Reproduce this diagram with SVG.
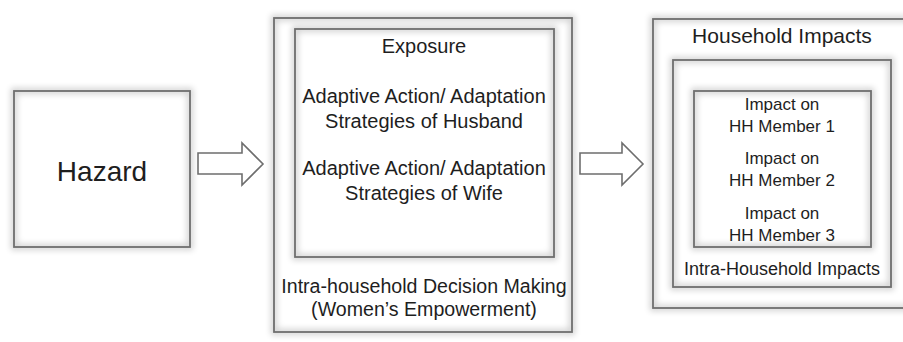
<svg xmlns="http://www.w3.org/2000/svg" width="903" height="342" viewBox="0 0 903 342">
<defs>
<filter id="glow" x="-10%" y="-10%" width="120%" height="120%">
<feMorphology in="SourceAlpha" operator="dilate" radius="1.5" result="d"/>
<feGaussianBlur in="d" stdDeviation="3" result="b"/>
<feComponentTransfer in="b" result="s"><feFuncA type="linear" slope="0.2"/></feComponentTransfer>
<feMerge><feMergeNode in="s"/><feMergeNode in="SourceGraphic"/></feMerge>
</filter>
</defs>
<style>
.box{fill:none;stroke:#6e6e6e;stroke-width:1.8;filter:url(#glow)}
.arrow{fill:#fff;stroke:#6e6e6e;stroke-width:1.6;stroke-linejoin:miter}
text{font-family:"Liberation Sans",Arial,sans-serif;fill:#1e1e1e;text-anchor:middle}
.t20{font-size:20px}
.t19{font-size:19.6px}
.t18{font-size:18px}
.t17{font-size:17px}
</style>
<rect width="903" height="342" fill="#fff"/>
<g id="hazard">
<rect class="box" x="14" y="91" width="176" height="156"/>
<text x="102" y="181" style="font-size:28px">Hazard</text>
</g>
<g id="decision">
<rect class="box" x="274" y="18" width="298" height="314"/>
<text class="t19" x="424" y="293">Intra-household Decision Making</text>
<text class="t19" x="424" y="316">(Women’s Empowerment)</text>
<g id="exposure">
<rect class="box" x="295" y="29" width="259" height="228"/>
<text class="t20" x="424" y="53">Exposure</text>
<text class="t20" x="424" y="103">Adaptive Action/ Adaptation</text>
<text class="t20" x="424" y="128">Strategies of Husband</text>
<text class="t20" x="424" y="175">Adaptive Action/ Adaptation</text>
<text class="t20" x="424" y="200">Strategies of Wife</text>
</g>
</g>
<g id="household">
<rect class="box" x="653" y="19" width="260" height="289"/>
<text x="782" y="43" style="font-size:21px">Household Impacts</text>
<g id="intra">
<rect class="box" x="673" y="60" width="218" height="227"/>
<text class="t18" x="782" y="275">Intra-Household Impacts</text>
<g id="members">
<rect class="box" x="694" y="91" width="177" height="156"/>
<text class="t17" x="782" y="110">Impact on</text>
<text class="t17" x="782" y="132">HH Member 1</text>
<text class="t17" x="782" y="164">Impact on</text>
<text class="t17" x="782" y="186">HH Member 2</text>
<text class="t17" x="782" y="219">Impact on</text>
<text class="t17" x="782" y="241">HH Member 3</text>
</g>
</g>
</g>
<g id="connectors">
<polygon class="arrow" points="198,153 242,153 242,143 263,164 242,185 242,174 198,174"/>
<polygon class="arrow" points="580,153 622,153 622,143 643,164 622,185 622,174 580,174"/>
</g>
</svg>
